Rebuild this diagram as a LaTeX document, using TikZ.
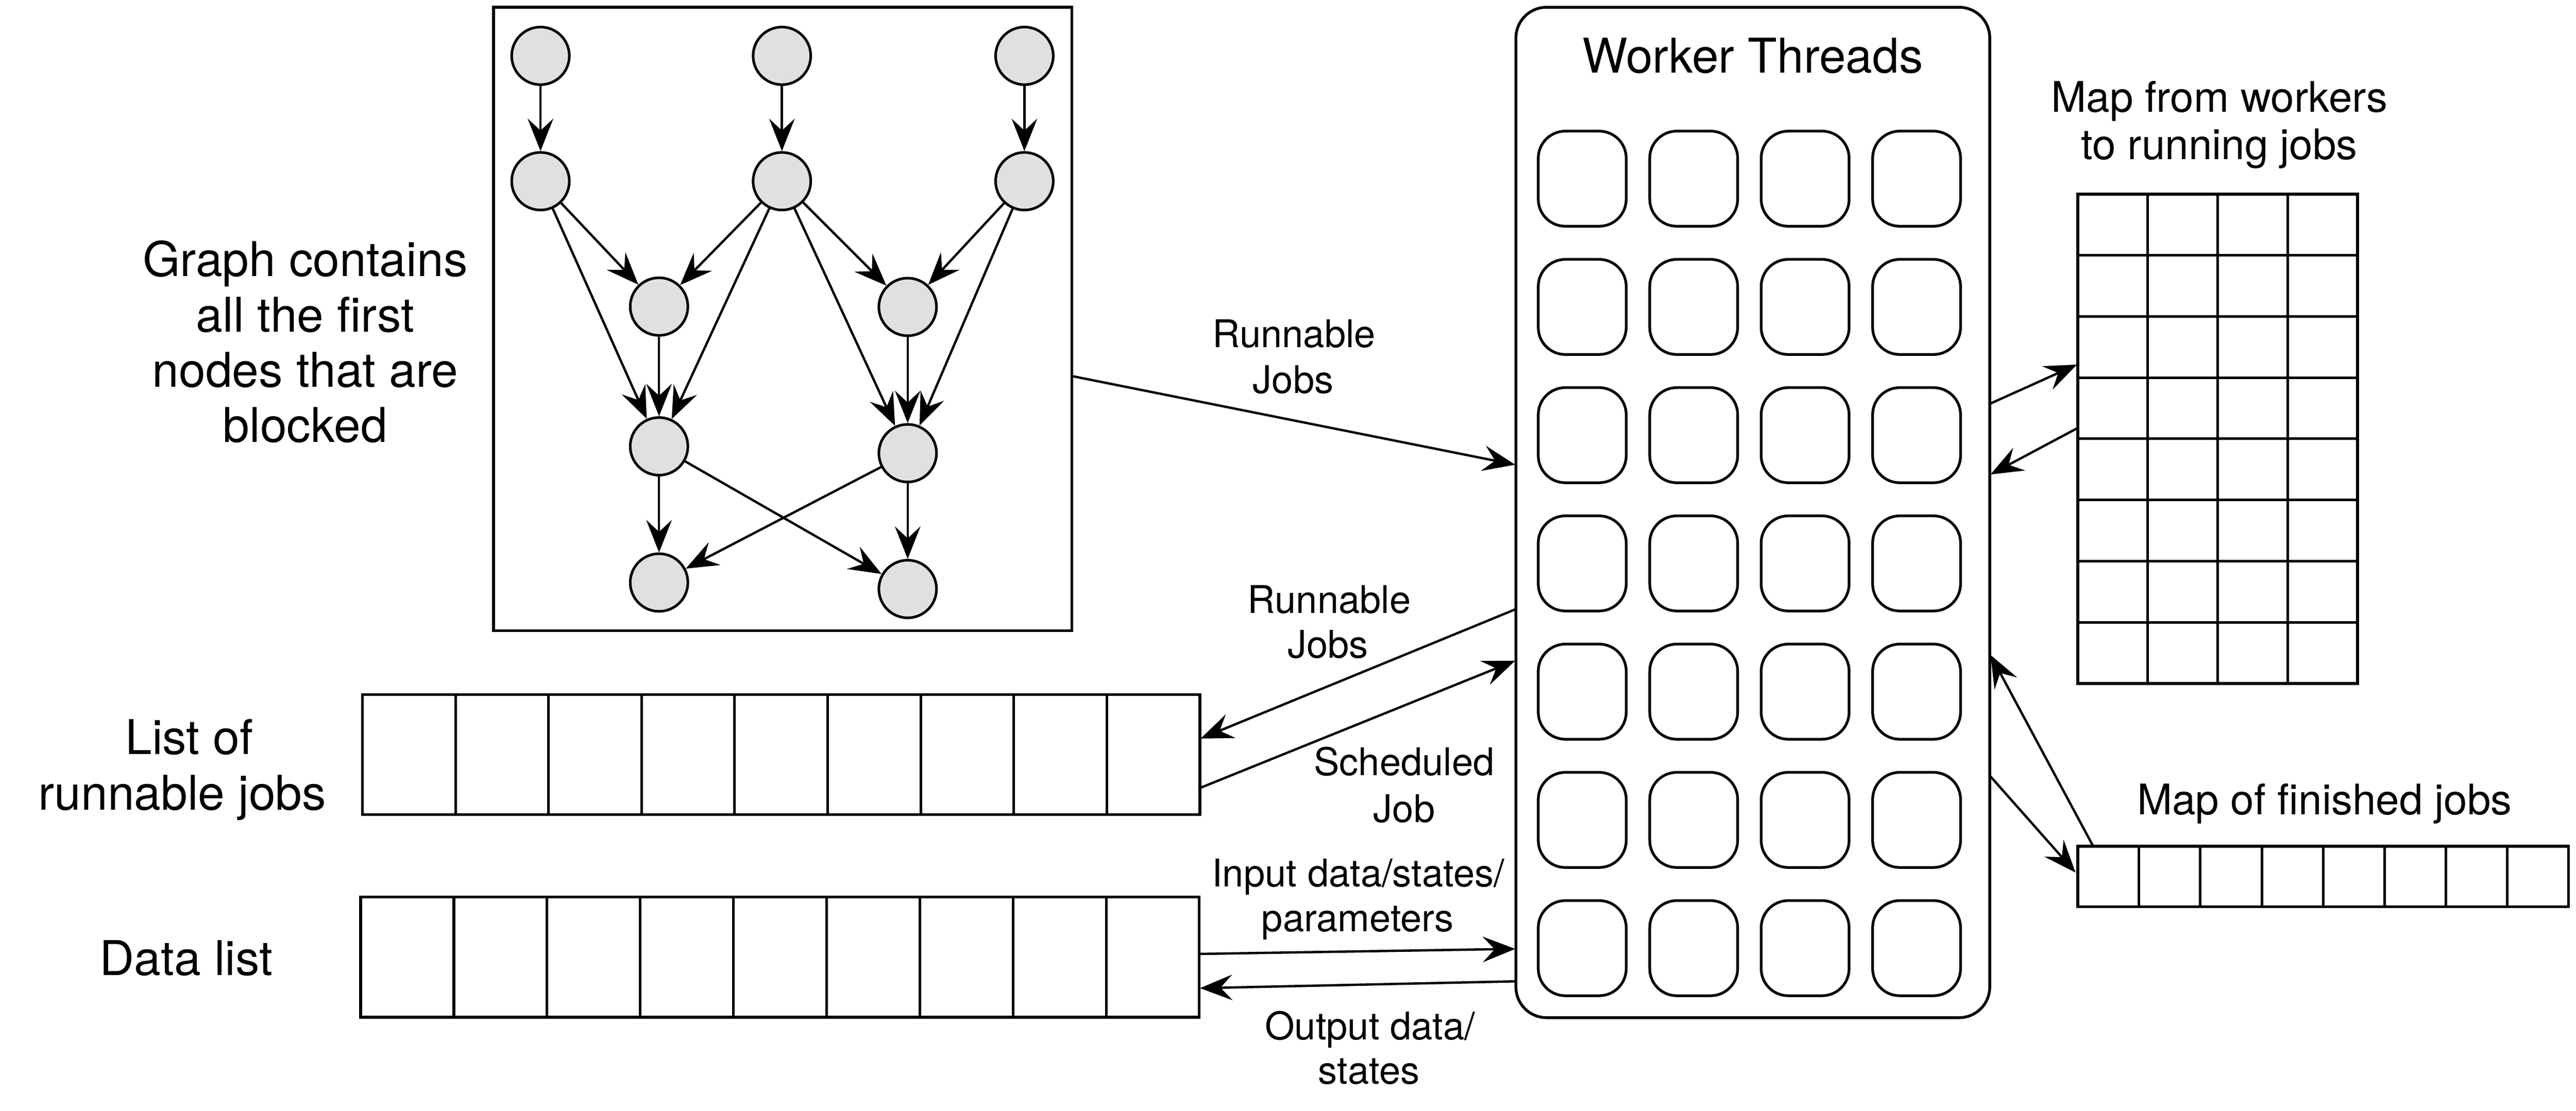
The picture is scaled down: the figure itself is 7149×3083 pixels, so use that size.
\documentclass[tikz,border=0pt]{standalone}
\usepackage{fontspec}
\setmainfont{TeX Gyre Heros}
\usetikzlibrary{arrows.meta}
\definecolor{nodefill}{RGB}{224,224,224}
\begin{document}
\begin{tikzpicture}[x=0.1pt,y=-0.1pt,
  gnode/.style={circle,draw,line width=0.72pt,fill=nodefill,minimum size=16pt,inner sep=0pt},
  conn/.style={line width=0.65pt,-{Stealth[length=9pt,width=7.1pt,inset=3.3pt]}},
  frame/.style={draw,line width=0.78pt,inner sep=0pt},
  wcell/.style={draw,line width=0.75pt,rounded corners=7.5pt,minimum width=24.4pt,minimum height=26.4pt,inner sep=0pt},
  gcell/.style={draw,line width=0.72pt,inner sep=0pt},
  bigtxt/.style={font=\fontsize{13.3pt}{15pt}\selectfont,inner sep=0pt,anchor=base},
  midtxt/.style={font=\fontsize{11.7pt}{14pt}\selectfont,inner sep=0pt,anchor=base},
  smalltxt/.style={font=\fontsize{10.6pt}{12.7pt}\selectfont,inner sep=0pt,anchor=base}]
\useasboundingbox (0,0) rectangle (7149,3083);

% ---------- graph box ----------
\node[frame,minimum width=160.5pt,minimum height=173.1pt] (gbox) at (2172.5,885.5) {};
\node[gnode] (c11) at (1500,155) {};
\node[gnode] (c12) at (2170,155) {};
\node[gnode] (c13) at (2843,155) {};
\node[gnode] (c21) at (1500,503) {};
\node[gnode] (c22) at (2170,503) {};
\node[gnode] (c23) at (2843,503) {};
\node[gnode] (c31) at (1829,851) {};
\node[gnode] (c32) at (2519,852) {};
\node[gnode] (c41) at (1829,1239) {};
\node[gnode] (c42) at (2519,1258) {};
\node[gnode] (c51) at (1829,1617) {};
\node[gnode] (c52) at (2519,1635) {};
\foreach \a/\b in {c11/c21,c12/c22,c13/c23,c21/c31,c21/c41,c22/c31,c22/c41,c22/c32,c22/c42,c23/c32,c23/c42,c31/c41,c32/c42,c41/c51,c41/c52,c42/c52,c42/c51}
  \draw[conn] (\a) -- (\b);

% ---------- worker threads ----------
\node[frame,rounded corners=8.5pt,minimum width=131.5pt,minimum height=280.5pt] (wt) at (4864.5,1422.5) {};
\node[bigtxt] (wtTitle) at (4864,202) {Worker Threads};
\foreach \r in {0,...,6}
  \foreach \c in {0,...,3}
    \node[wcell] (wc-\r-\c) at ({4391+309.3*\c},{496+356*\r}) {};

% ---------- map from workers to running jobs ----------
\node[frame,minimum width=77.7pt,minimum height=135.8pt] (rmap) at (6154.5,1218) {};
\foreach \r in {0,...,7}
  \foreach \c in {0,...,3}
    \node[gcell,minimum width=19.425pt,minimum height=16.975pt] (rm-\r-\c) at ({5766+194.25*(\c+0.5)},{539+169.75*(\r+0.5)}) {};
\node[midtxt] (rmLab1) at (6159,311) {Map from workers};
\node[midtxt] (rmLab2) at (6159,443) {to running jobs};

% ---------- map of finished jobs ----------
\node[frame,minimum width=136.2pt,minimum height=16.8pt] (fmap) at (6447,2433) {};
\foreach \c in {0,...,7}
  \node[gcell,minimum width=17.025pt,minimum height=16.8pt] (fm-\c) at ({5766+170.25*(\c+0.5)},2433) {};
\node[midtxt] (fmLab) at (6451,2261) {Map of finished jobs};

% ---------- list of runnable jobs ----------
\node[frame,minimum width=232.4pt,minimum height=33.3pt] (rlist) at (2168,2094.5) {};
\foreach \c in {0,...,8}
  \node[gcell,minimum width=25.82pt,minimum height=33.3pt] (rl-\c) at ({1006+258.2*(\c+0.5)},2094.5) {};
\node[bigtxt] (rlLab1) at (525,2094) {List of};
\node[bigtxt] (rlLab2) at (506,2248) {runnable jobs};

% ---------- data list ----------
\node[frame,minimum width=232.7pt,minimum height=33.4pt] (dlist) at (2164.5,2657) {};
\foreach \c in {0,...,8}
  \node[gcell,minimum width=25.86pt,minimum height=33.4pt] (dl-\c) at ({1001+258.6*(\c+0.5)},2657) {};
\node[bigtxt] (dlLab) at (517,2707) {Data list};

% ---------- graph label ----------
\node[bigtxt] (gLab1) at (847,767) {Graph contains};
\node[bigtxt] (gLab2) at (847,921) {all the first};
\node[bigtxt] (gLab3) at (847,1075) {nodes that are};
\node[bigtxt] (gLab4) at (847,1228) {blocked};

% ---------- connector end points ----------
\coordinate (gOut) at (2975,1044);
\coordinate (wIn1) at (4205,1290);
\coordinate (wOut1) at (4209,1690);
\coordinate (rlIn) at (3332,2050);
\coordinate (rlOut) at (3326,2189);
\coordinate (wIn2) at (4205,1834);
\coordinate (dlOut) at (3326,2648);
\coordinate (wIn3) at (4205,2634);
\coordinate (wOut2) at (4207,2724);
\coordinate (dlIn) at (3330,2743);
\coordinate (wOut3) at (5522,1121);
\coordinate (rmIn) at (5764,1012);
\coordinate (rmOut) at (5768,1187);
\coordinate (wIn4) at (5524,1317);
\coordinate (fmOut) at (5810,2351);
\coordinate (wIn5) at (5524,1818);
\coordinate (wOut4) at (5522,2153);
\coordinate (fmIn) at (5760,2422);

\draw[conn] (gOut) -- (wIn1);
\draw[conn] (wOut1) -- (rlIn);
\draw[conn] (rlOut) -- (wIn2);
\draw[conn] (dlOut) -- (wIn3);
\draw[conn] (wOut2) -- (dlIn);
\draw[conn] (wOut3) -- (rmIn);
\draw[conn] (rmOut) -- (wIn4);
\draw[conn] (fmOut) -- (wIn5);
\draw[conn] (wOut4) -- (fmIn);

% ---------- connector labels ----------
\node[smalltxt] (lRun1a) at (3591,965) {Runnable};
\node[smalltxt] (lRun1b) at (3589,1092) {Jobs};
\node[smalltxt] (lRun2a) at (3689,1702) {Runnable};
\node[smalltxt] (lRun2b) at (3685,1827) {Jobs};
\node[smalltxt] (lSchA) at (3897,2153) {Scheduled};
\node[smalltxt] (lSchB) at (3897,2283) {Job};
\node[smalltxt] (lInA) at (3769,2461) {Input data/states/};
\node[smalltxt] (lInB) at (3768,2586) {parameters};
\node[smalltxt] (lOutA) at (3802,2886) {Output data/};
\node[smalltxt] (lOutB) at (3799,3009) {states};
\end{tikzpicture}
\end{document}
